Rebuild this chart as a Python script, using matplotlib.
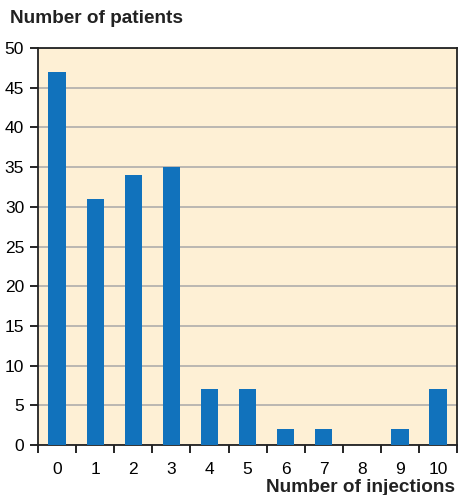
import numpy as np
import matplotlib.pyplot as plt

injections = list(range(11))
patients = [47, 31, 34, 35, 7, 7, 2, 2, 0, 2, 7]
y_ticks = list(range(0, 51, 5))

BAR_COLOR = "#1172BC"
BG_COLOR = "#FEF0D5"

plt.rcParams["font.family"] = ["Liberation Sans", "DejaVu Sans"]

fig = plt.figure(figsize=(4.58, 4.95), dpi=100)
ax = fig.add_axes([0.083, 0.101, 0.915, 0.802])
ax.set_facecolor(BG_COLOR)

ax.bar(injections, patients, width=0.45, color=BAR_COLOR, zorder=3)

ax.set_xlim(-0.5, 10.5)
ax.set_ylim(0, 50)
ax.set_yticks(y_ticks)
ax.yaxis.grid(True, color="#A8A8A8", linewidth=1.1, zorder=1)
ax.set_axisbelow(True)

ax.set_xticks(injections)
ax.set_xticklabels([str(i) for i in injections])
ax.set_xticks(np.arange(-0.5, 10.6, 1), minor=True)
ax.tick_params(axis="x", which="major", length=0, pad=12, labelsize=12.5)
ax.tick_params(axis="x", which="minor", length=6, width=1.2, direction="out")
ax.tick_params(axis="y", length=6, width=1.2, labelsize=12.5, pad=4)

for side in ax.spines.values():
    side.set_color("#222222")
    side.set_linewidth(1.3)

fig.text(0.022, 0.962, "Number of patients", fontsize=13.7, fontweight="bold",
         color="#222222", ha="left", va="center")
fig.text(0.994, 0.016, "Number of injections", fontsize=13.7, fontweight="bold",
         color="#222222", ha="right", va="center")

fig.savefig("out.png", dpi=100)
